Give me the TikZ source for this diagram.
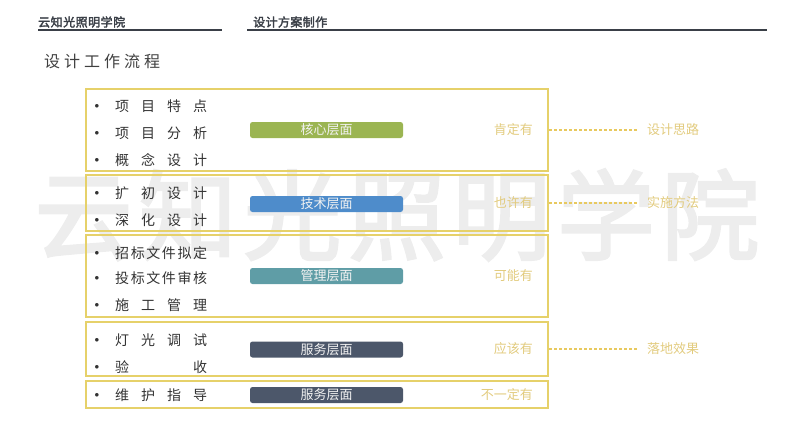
\documentclass[tikz,border=0pt]{standalone}
\usepackage{fontspec}
\setmainfont{Noto Sans CJK SC}[AutoFakeBold=2.5]
\usetikzlibrary{positioning}

\definecolor{rahmengelb}{HTML}{E6D16A}
\definecolor{textgelb}{HTML}{E2CB7E}
\definecolor{kerngruen}{HTML}{9BB552}
\definecolor{technikblau}{HTML}{4E8CCB}
\definecolor{managetuerkis}{HTML}{5F9DA6}
\definecolor{dienstgrau}{HTML}{4C576A}
\definecolor{kopfgrau}{HTML}{3A3F47}

% gesperrter Text auf feste Breite
\newcommand{\gesperrt}[2]{\makebox[#1][s]{#2}}

\tikzset{
	bereich/.style={draw=rahmengelb, line width=2pt, minimum width=462pt, inner sep=0pt},
	ebene/.style={fill=#1, rounded corners=2.5pt, minimum width=153pt, minimum height=16pt,
		inner sep=0pt, text=white!90!gray, font=\fontsize{13}{13}\selectfont},
	punkt/.style={anchor=west, inner sep=0pt, text=black!80, font=\fontsize{14}{14}\selectfont},
	marke/.style={inner sep=0pt, text=black!80, font=\fontsize{9}{9}\selectfont},
	wert/.style={anchor=east, inner sep=0pt, text=textgelb, font=\fontsize{13}{13}\selectfont},
	ziel/.style={anchor=west, inner sep=0pt, text=textgelb, font=\fontsize{13}{13}\selectfont},
	strich/.style={draw=rahmengelb!90!orange, line width=1.3pt, dash pattern=on 3pt off 2pt}
}

\begin{document}
\begin{tikzpicture}[x=1pt, y=-1pt]
	\useasboundingbox (0,0) rectangle (800,421);

	% Wasserzeichen
	\node[inner sep=0pt, text=black!7, font=\fontsize{98}{98}\selectfont\bfseries] (wasser) at (397,215)
		{\gesperrt{725pt}{云\hfill 知\hfill 光\hfill 照\hfill 明\hfill 学\hfill 院}};

	% Kopfzeile
	\node[anchor=west, inner sep=0pt, text=kopfgrau, font=\fontsize{12}{12}\selectfont\bfseries] (schule) at (38,22)
		{\gesperrt{87pt}{云\hfill 知\hfill 光\hfill 照\hfill 明\hfill 学\hfill 院}};
	\node[anchor=west, inner sep=0pt, text=kopfgrau, font=\fontsize{12}{12}\selectfont\bfseries] (thema) at (253,22)
		{\gesperrt{74pt}{设\hfill 计\hfill 方\hfill 案\hfill 制\hfill 作}};
	\draw[kopfgrau, line width=1.2pt] (38,30) -- (222,30);
	\draw[kopfgrau, line width=1.2pt] (247,30) -- (767,30);
	\node[anchor=west, inner sep=0pt, text=black!75, font=\fontsize{16}{16}\selectfont] (titel) at (44,61)
		{\gesperrt{116pt}{设\hfill 计\hfill 工\hfill 作\hfill 流\hfill 程}};

	% Bereiche
	\node[bereich, minimum height=82pt] (box1) at (317,130) {};
	\node[bereich, minimum height=56pt] (box2) at (317,203) {};
	\node[bereich, minimum height=82pt] (box3) at (317,276) {};
	\node[bereich, minimum height=54pt] (box4) at (317,349) {};
	\node[bereich, minimum height=27pt] (box5) at (317,394.5) {};

	% Aufzaehlungspunkte
	\foreach \y [count=\i] in {106,133,160,193,220,253,278,305,340,367,395}
		\node[marke] (b\i) at (97,\y) {$\bullet$};

	% Stichpunkte
	\node[punkt] (p1) at (115,106) {\gesperrt{92pt}{项\hfill 目\hfill 特\hfill 点}};
	\node[punkt] (p2) at (115,133) {\gesperrt{92pt}{项\hfill 目\hfill 分\hfill 析}};
	\node[punkt] (p3) at (115,160) {\gesperrt{92pt}{概\hfill 念\hfill 设\hfill 计}};
	\node[punkt] (p4) at (115,193) {\gesperrt{92pt}{扩\hfill 初\hfill 设\hfill 计}};
	\node[punkt] (p5) at (115,220) {\gesperrt{92pt}{深\hfill 化\hfill 设\hfill 计}};
	\node[punkt] (p6) at (115,253) {\gesperrt{92pt}{招\hfill 标\hfill 文\hfill 件\hfill 拟\hfill 定}};
	\node[punkt] (p7) at (115,278) {\gesperrt{92pt}{投\hfill 标\hfill 文\hfill 件\hfill 审\hfill 核}};
	\node[punkt] (p8) at (115,305) {\gesperrt{92pt}{施\hfill 工\hfill 管\hfill 理}};
	\node[punkt] (p9) at (115,340) {\gesperrt{92pt}{灯\hfill 光\hfill 调\hfill 试}};
	\node[punkt] (p10) at (115,367) {\gesperrt{92pt}{验\hfill 收}};
	\node[punkt] (p11) at (115,395) {\gesperrt{92pt}{维\hfill 护\hfill 指\hfill 导}};

	% Ebenen
	\node[ebene=kerngruen] (e1) at (326.5,130) {核心层面};
	\node[ebene=technikblau] (e2) at (326.5,204) {技术层面};
	\node[ebene=managetuerkis] (e3) at (326.5,276) {管理层面};
	\node[ebene=dienstgrau] (e4) at (326.5,349.5) {服务层面};
	\node[ebene=dienstgrau] (e5) at (326.5,395) {服务层面};

	% Wahrscheinlichkeit
	\node[wert] (w1) at (533,130) {肯定有};
	\node[wert] (w2) at (533,203) {也许有};
	\node[wert] (w3) at (533,276) {可能有};
	\node[wert] (w4) at (533,349) {应该有};
	\node[wert] (w5) at (533,395) {不一定有};

	% Ziele
	\node[ziel] (z1) at (647,130) {设计思路};
	\node[ziel] (z2) at (647,203) {实施方法};
	\node[ziel] (z4) at (647,349) {落地效果};
	\draw[strich] (box1.east) -- ([xshift=-9pt]z1.west);
	\draw[strich] (box2.east) -- ([xshift=-9pt]z2.west);
	\draw[strich] (box4.east) -- ([xshift=-9pt]z4.west);
\end{tikzpicture}
\end{document}
